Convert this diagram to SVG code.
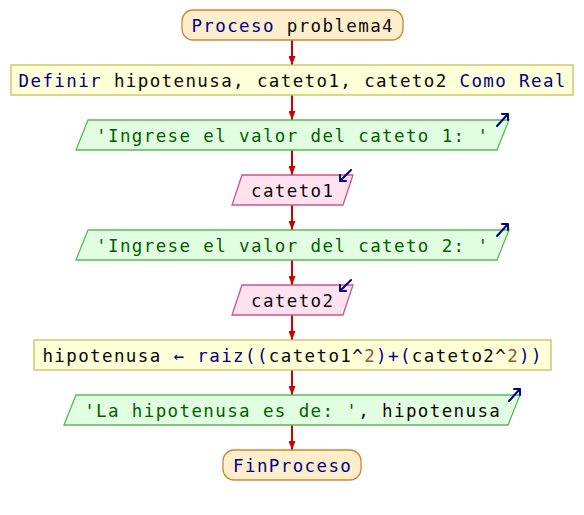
<svg xmlns="http://www.w3.org/2000/svg" width="584" height="515" viewBox="0 0 584 515">
  <defs>
    <style>
      text { font-family: "DejaVu Sans Mono", "Liberation Mono", monospace; font-size: 17.5px; letter-spacing: 1.38px; text-anchor: middle; fill: #0a0a0a; }
      .kw { fill: #000088; }
      .str { fill: #005f00; }
      .num { fill: #a0522d; }
      .term { fill: #ffeecc; stroke: #cc8833; stroke-width: 1.3; }
      .proc { fill: #ffffd8; stroke: #c8c060; stroke-width: 1.3; }
      .out { fill: #e2ffe2; stroke: #55bb55; stroke-width: 1.3; }
      .in { fill: #ffe2f0; stroke: #cc5588; stroke-width: 1.3; }
      .icon { fill: none; stroke: #000080; stroke-width: 2; stroke-linecap: round; stroke-linejoin: round; }
      .flow line { stroke: #cc0000; stroke-width: 2; }
    </style>
    <marker id="arrow" markerUnits="userSpaceOnUse" markerWidth="10" markerHeight="7" refX="9" refY="3.5" orient="auto">
      <path d="M0,0 L9,3.5 L0,7 Z" fill="#cc0000"/>
    </marker>
  </defs>

  <!-- connectors -->
  <g id="connectors" class="flow">
    <line x1="292" y1="40" x2="292" y2="65" marker-end="url(#arrow)"/>
    <line x1="292" y1="95" x2="292" y2="120" marker-end="url(#arrow)"/>
    <line x1="292" y1="150" x2="292" y2="175" marker-end="url(#arrow)"/>
    <line x1="292" y1="205" x2="292" y2="230" marker-end="url(#arrow)"/>
    <line x1="292" y1="260" x2="292" y2="285" marker-end="url(#arrow)"/>
    <line x1="292" y1="315" x2="292" y2="340" marker-end="url(#arrow)"/>
    <line x1="292" y1="370" x2="292" y2="395" marker-end="url(#arrow)"/>
    <line x1="292" y1="425" x2="292" y2="450" marker-end="url(#arrow)"/>
  </g>

  <g id="start">
    <rect class="term" x="182" y="10" width="221" height="30" rx="11"/>
    <text x="292.7" y="31.5"><tspan class="kw">Proceso</tspan> problema4</text>
  </g>

  <g id="define">
    <rect class="proc" x="11" y="65" width="562" height="30"/>
    <text x="292.7" y="86.5"><tspan class="kw">Definir</tspan> hipotenusa, cateto1, cateto2 <tspan class="kw">Como Real</tspan></text>
  </g>

  <g id="write1">
    <polygon class="out" points="88,120 509,120 497,150 76,150"/>
    <text class="str" x="292.7" y="141.5">'Ingrese el valor del cateto 1: '</text>
    <path class="icon" d="M497,126 L508,114 M502,114 L508,114 L508,120"/>
  </g>

  <g id="read1">
    <polygon class="in" points="242,175 353,175 343,205 232,205"/>
    <text x="292.7" y="196.5">cateto1</text>
    <path class="icon" d="M351,170 L340,181 M340,175 L340,181 L346,181"/>
  </g>

  <g id="write2">
    <polygon class="out" points="88,230 509,230 497,260 76,260"/>
    <text class="str" x="292.7" y="251.5">'Ingrese el valor del cateto 2: '</text>
    <path class="icon" d="M497,236 L508,224 M502,224 L508,224 L508,230"/>
  </g>

  <g id="read2">
    <polygon class="in" points="242,285 353,285 343,315 232,315"/>
    <text x="292.7" y="306.5">cateto2</text>
    <path class="icon" d="M351,280 L340,291 M340,285 L340,291 L346,291"/>
  </g>

  <g id="assign">
    <rect class="proc" x="34" y="340" width="517" height="30"/>
    <text x="292.7" y="361.5">hipotenusa <tspan class="kw">←</tspan> <tspan class="kw">raiz((</tspan>cateto1^<tspan class="num">2</tspan><tspan class="kw">)+(</tspan>cateto2^<tspan class="num">2</tspan><tspan class="kw">))</tspan></text>
  </g>

  <g id="write3">
    <polygon class="out" points="76,395 520,395 508,425 64,425"/>
    <text x="292.7" y="416.5"><tspan class="str">'La hipotenusa es de: '</tspan>, hipotenusa</text>
    <path class="icon" d="M509,401 L520,389 M514,389 L520,389 L520,395"/>
  </g>

  <g id="end">
    <rect class="term" x="223" y="450" width="138" height="30" rx="11"/>
    <text class="kw" x="292.7" y="471.5">FinProceso</text>
  </g>
</svg>
